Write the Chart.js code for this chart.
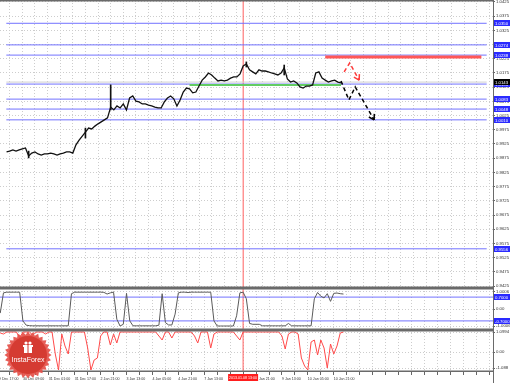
<!DOCTYPE html>
<html>
<head>
<meta charset="utf-8">
<script src="https://cdn.jsdelivr.net/npm/chart.js@4.4.1/dist/chart.umd.min.js"></script>
<style>
html, body { margin: 0; padding: 0; background: #fff; }
#wrap { position: relative; width: 510px; height: 383px; overflow: hidden; }
canvas { position: absolute; left: 0; }
</style>
</head>
<body>
<div id="wrap">
  <canvas id="main" width="510" height="288" style="top:0"></canvas>
  <canvas id="osc" width="510" height="42" style="top:288px"></canvas>
  <canvas id="red" width="510" height="53" style="top:330px"></canvas>
</div>
<script>
// 종가 (2시간 간격, H1 바 번호 2, 4, 6 ...)
const closes = [
  0.9897, 0.9900, 0.9904, 0.9900, 0.9904, 0.9908, 0.9911, 0.9883, 0.9893, 0.9897,
  0.9890, 0.9886, 0.9890, 0.9890, 0.9893, 0.9890, 0.9886, 0.9890, 0.9893, 0.9897,
  0.9897, 0.9893, 0.9922, 0.9939, 0.9953, 0.9967, 0.9981, 0.9978, 0.9988, 0.9996,
  1.0003, 1.0010, 1.0017, 1.0055, 1.0045, 1.0059, 1.0052, 1.0066, 1.0045, 1.0087,
  1.0094, 1.0076, 1.0073, 1.0066, 1.0066, 1.0062, 1.0059, 1.0055, 1.0052, 1.0052,
  1.0073, 1.0087, 1.0094, 1.0084, 1.0059, 1.0080, 1.0108, 1.0122, 1.0119, 1.0105,
  1.0108, 1.0129, 1.0150, 1.0161, 1.0175, 1.0168, 1.0157, 1.0147, 1.0150, 1.0147,
  1.0150, 1.0157, 1.0161, 1.0161, 1.0172, 1.0200, 1.0207, 1.0186, 1.0179, 1.0172,
  1.0186, 1.0182, 1.0182, 1.0179, 1.0175, 1.0172, 1.0168, 1.0175, 1.0193, 1.0154,
  1.0143, 1.0147, 1.0140, 1.0126, 1.0122, 1.0129, 1.0129, 1.0133, 1.0175, 1.0179,
  1.0157, 1.0150, 1.0143, 1.0147, 1.0150, 1.0143, 1.0140
];
// 큰 꼬리가 보이는 바
const wickAt = [16, 52, 68, 154, 178];
const wickLows = [0.9876, 0.9946, 1.0045, 1.0196, 1.0168];
const wickHighs = [0.9900, 0.9981, 1.0133, 1.0214, 1.0203];

// 보조지표 1 (회색)
const oscValues = [
  -0.24, 0.95, 0.99, 0.99, 0.99, 0.99, 0.99, -0.70, -0.95, -0.98,
  -0.99, -0.99, -0.99, -0.99, -0.99, -0.99, -0.99, -0.99, -0.99, -0.99,
  -0.99, -0.99, 0.90, 0.99, 0.99, 0.99, 0.99, 0.99, 0.99, 0.99,
  0.99, 0.99, 0.98, 0.88, 0.95, 0.99, -0.60, -1.00, -0.90, 0.92,
  -0.70, -0.99, -0.99, -0.99, -0.99, -0.99, -0.99, -0.99, -0.99, -0.95,
  0.90, -0.80, -0.94, -0.94, -0.30, 0.95, 0.99, 0.99, 0.97, 0.99,
  0.99, 0.99, 0.99, 0.99, 0.99, 0.99, -0.70, -1.00, -1.00, -1.00,
  -1.00, -1.00, -1.00, -0.40, 0.95, 0.99, 0.60, -0.85, -0.90, -0.90,
  -0.90, -0.99, -0.99, -0.99, -0.99, -0.99, -0.99, -0.99, -0.99, -0.85,
  -0.99, -0.99, -0.99, -0.99, -0.99, -0.99, -0.99, 0.60, 0.97, 0.75,
  0.65, 0.90, 0.45, 0.92, 0.94, 0.90, 0.88
];
// 보조지표 2 (빨강)
const redValues = [
  0.95, 0.90, 1, 1, 1, 1, 0.70, 1, 1, 1,
  0.85, 1, 1, 1, 0.90, 1, 1, -0.10, -0.90, 0.90,
  0.30, -0.10, 1, 1, 1, 1, 1, 0.20, -0.90, -0.40,
  -0.30, 0.80, 1, 1, 0.35, 0.90, 0.45, 1, 1, 1,
  1, 1, 1, 1, 1, 1, 1, 1, 1, 0.80,
  0.60, 1, 1, 0.70, 1, 1, 1, 1, 1, 1,
  0.80, 0.45, 1, 1, 1, 0.20, 0.90, 1, 1, 1,
  1, 1, 1, 0.80, 0.60, 1, 1, 1, 1, 1,
  1, 1, 1, 1, 1, 1, 1, 0.80, 0.15, 0.90,
  1, 1, 0.90, -0.30, -0.70, -0.90, 0.50, 0.60, -0.15, 0.60,
  0.20, -0.80, 0.40, -0.10, 0.30, 0.95, 1
];
const firstBar = 2;

// 수평 레벨
const blueLevels = [1.0350, 1.0274, 1.0238, 1.0136, 1.0083, 1.0048, 1.0010, 0.9556];
const bidPrice = 1.0143;
const greenLevel = 1.0133, greenFrom = 118, greenTo = 214;
const redLevel = 1.0231, redFrom = 204, redTo = 303;
// 예상 경로 (바 번호, 가격)
const blackPathBars = [214, 219, 223, 235];
const blackPathPrices = [1.0147, 1.0080, 1.0126, 1.0010];
const redPathBars = [216, 219.5, 225.5];
const redPathPrices = [1.0179, 1.0210, 1.0150];

// 축 눈금
const priceTicks = [0.9425, 0.9475, 0.9525, 0.9575, 0.9625, 0.9675, 0.9725, 0.9775, 0.9825, 0.9875,
  0.9925, 0.9975, 1.0025, 1.0075, 1.0125, 1.0175, 1.0225, 1.0275, 1.0325, 1.0375, 1.0425];
const oscTicks = [1.0, 0, -1.0];
const oscTickLabels = ['1.0006', '0.00', '-1.0006'];
const oscLevels = [0.7, -0.7];
const redTicks = [1.0, 0, -0.8];
const redTickLabels = ['1.0994', '0.00', '-1.088'];
const timeBars = [0, 16, 32, 48, 64, 80, 96, 112, 128, 144, 160, 176, 192, 208];
const timeLabels = ['29 Dec 17:00', '30 Dec 09:00', '31 Dec 01:00', '31 Dec 17:00', '2 Jan 21:00',
  '3 Jan 13:00', '4 Jan 05:00', '4 Jan 21:00', '7 Jan 13:00', '8 Jan 05:00', '8 Jan 21:00',
  '9 Jan 13:00', '10 Jan 05:00', '10 Jan 21:00'];
const markerBar = 152;
const markerLabel = '2013.01.08 13:00';

const X_MIN = 1.85, X_MAX = 306.35;
const FONT = '"Liberation Sans", Arial, sans-serif';
const AXIS_FONT = 4.3, TIME_FONT = 3.6;

const gridBars = [];
for (let v = 0; v <= 304; v += 8) gridBars.push(v);

const pts = (vals) => vals.map((v, j) => ({x: firstBar + 2 * j, y: v}));
const hline = (y, from, to) => [{x: from, y: y}, {x: to, y: y}];

function xScale(withLabels) {
  return {
    type: 'linear', min: X_MIN, max: X_MAX,
    afterBuildTicks: s => { s.ticks = gridBars.map(v => ({value: v})); },
    afterFit: s => {
      s.height = withLabels ? 11 : 0;
      s.paddingLeft = 0; s.paddingRight = 0;
    },
    grid: {color: '#cdcdcd', drawTicks: withLabels, tickLength: 3, tickColor: '#666'},
    border: {display: false, dash: [1, 2]},
    ticks: {
      display: withLabels, autoSkip: false, maxRotation: 0, align: 'start', padding: 1.5,
      color: '#333', font: {size: TIME_FONT, family: FONT},
      callback: v => { const k = timeBars.indexOf(v); return k >= 0 ? timeLabels[k] : ''; }
    }
  };
}

function yScale(min, max, ticks, labels) {
  return {
    position: 'right', min: min, max: max,
    afterBuildTicks: s => { s.ticks = ticks.map(v => ({value: v})); },
    afterFit: s => {
      s.width = 17;
      s.paddingTop = 0; s.paddingBottom = 0;
    },
    grid: {color: '#cdcdcd', tickLength: 2, tickColor: '#666'},
    border: {display: false, dash: [1, 2]},
    ticks: {autoSkip: false, padding: 1, color: '#333', font: {size: AXIS_FONT, family: FONT},
      callback: (v, i) => labels[i]}
  };
}

// 빨간 세로선 (기간 구분): 선 데이터셋으로 그림
const markerLine = (min, max) => ({
  data: [{x: markerBar, y: min}, {x: markerBar, y: max}],
  borderColor: '#ff6060', borderWidth: 1, order: 5
});

// 패널 테두리
const framePlugin = {
  id: 'frame',
  afterDraw(chart) {
    const {ctx, chartArea: a} = chart;
    ctx.save();
    ctx.setLineDash([]);
    ctx.strokeStyle = '#6a6a6a';
    ctx.lineWidth = 1.5;
    ctx.beginPath();
    ctx.moveTo(0, a.top + 0.75); ctx.lineTo(a.right, a.top + 0.75);
    ctx.moveTo(0, a.bottom - 0.75); ctx.lineTo(a.right, a.bottom - 0.75);
    ctx.stroke();
    ctx.lineWidth = 1;
    ctx.beginPath(); ctx.moveTo(a.right + 0.5, a.top); ctx.lineTo(a.right + 0.5, chart.height); ctx.stroke();
    ctx.restore();
  }
};

// 축 위의 가격 상자
function tagPlugin(tags) {
  return {
    id: 'tags',
    afterDraw(chart) {
      const {ctx, chartArea: a, scales: {y}} = chart;
      ctx.save();
      ctx.font = AXIS_FONT + 'px ' + FONT;
      ctx.textBaseline = 'middle';
      tags.forEach(t => {
        const py = Math.round(y.getPixelForValue(t.value));
        ctx.fillStyle = t.bg;
        ctx.fillRect(a.right + 1, py - 3, 17, 6);
        ctx.fillStyle = '#fff';
        ctx.fillText(t.text, a.right + 2, py + 0.5);
      });
      ctx.restore();
    }
  };
}

// 점선 경로 끝의 화살촉
const arrowPlugin = {
  id: 'arrowHeads',
  afterDatasetsDraw(chart) {
    const ctx = chart.ctx;
    chart.data.datasets.forEach((ds, i) => {
      if (!ds.arrowHead) return;
      const d = chart.getDatasetMeta(i).data;
      const p1 = d[d.length - 2], p2 = d[d.length - 1];
      const ang = Math.atan2(p2.y - p1.y, p2.x - p1.x);
      ctx.save();
      ctx.setLineDash([]);
      ctx.strokeStyle = ds.borderColor;
      ctx.lineWidth = 1.5;
      ctx.beginPath();
      [-0.55, 0.55].forEach(o => {
        ctx.moveTo(p2.x, p2.y);
        ctx.lineTo(p2.x - 6 * Math.cos(ang + o), p2.y - 6 * Math.sin(ang + o));
      });
      ctx.stroke();
      ctx.restore();
    });
  }
};

// 시간축 빨간 라벨 + 로고
const bottomPlugin = {
  id: 'bottom',
  afterDraw(chart) {
    const {ctx, chartArea: a, scales: {x}} = chart;
    const px = x.getPixelForValue(markerBar);
    ctx.save();
    ctx.fillStyle = '#ff1e1e';
    ctx.fillRect(px - 15, a.bottom + 2, 30, 7);
    ctx.fillStyle = '#fff';
    ctx.font = TIME_FONT + 'px ' + FONT;
    ctx.textAlign = 'center';
    ctx.textBaseline = 'middle';
    ctx.fillText(markerLabel, px, a.bottom + 5.5);

    // InstaForex 배지
    const cx = a.left + 28, cy = a.top + 25;
    ctx.globalAlpha = 0.93;
    ctx.fillStyle = '#e5524a';
    ctx.beginPath();
    for (let k = 0; k < 56; k++) {
      const r = k % 2 ? 20.5 : 23.5;
      const t = k * Math.PI / 28;
      ctx.lineTo(cx + r * Math.cos(t), cy + r * Math.sin(t));
    }
    ctx.closePath();
    ctx.fill();
    ctx.fillStyle = '#d4392f';
    ctx.beginPath(); ctx.arc(cx, cy, 19, 0, Math.PI * 2); ctx.fill();
    ctx.globalAlpha = 1;
    ctx.fillStyle = '#fff';
    ctx.fillRect(cx - 4, cy - 8, 8, 6);
    ctx.fillRect(cx - 5, cy - 10, 10, 2);
    ctx.beginPath(); ctx.arc(cx - 2, cy - 12, 1.6, 0, Math.PI * 2); ctx.arc(cx + 2, cy - 12, 1.6, 0, Math.PI * 2); ctx.fill();
    ctx.fillStyle = '#d4392f';
    ctx.fillRect(cx - 0.5, cy - 10, 1, 8);
    ctx.fillStyle = '#fff';
    ctx.font = '7px ' + FONT;
    ctx.fillText('InstaForex', cx, cy + 5);
    ctx.restore();
  }
};

const baseOptions = {
  responsive: false,
  animation: false,
  layout: {padding: 0, autoPadding: false},
  plugins: {legend: {display: false}, tooltip: {enabled: false}},
  elements: {point: {radius: 0}, line: {tension: 0}}
};

// 메인 가격 차트
const mainDatasets = [
  {data: pts(closes), borderColor: '#111', borderWidth: 1.3},
  {type: 'bar', data: wickAt.map((b, k) => ({x: b, y: [wickLows[k], wickHighs[k]]})),
    backgroundColor: '#111', barThickness: 1},
  {data: blackPathBars.map((b, k) => ({x: b, y: blackPathPrices[k]})), borderColor: '#000',
    borderWidth: 1.5, borderDash: [4, 3], arrowHead: true},
  {data: redPathBars.map((b, k) => ({x: b, y: redPathPrices[k]})), borderColor: '#ff3b3b',
    borderWidth: 1.5, borderDash: [4, 3], arrowHead: true},
  {data: hline(greenLevel, greenFrom, greenTo), borderColor: '#62cc62', borderWidth: 2},
  {data: hline(redLevel, redFrom, redTo), borderColor: '#ff5757', borderWidth: 3},
  {data: hline(bidPrice, X_MIN, X_MAX), borderColor: '#d0d0d0', borderWidth: 1},
  markerLine(0.9418, 1.0432)
];
blueLevels.forEach(l => mainDatasets.push({data: hline(l, X_MIN, X_MAX), borderColor: '#7272ff', borderWidth: 1}));

const mainTags = blueLevels.map(l => ({value: l, text: l.toFixed(4), bg: '#2a2aff'}));
mainTags.push({value: bidPrice, text: bidPrice.toFixed(4), bg: '#000'});

new Chart(document.getElementById('main'), {
  type: 'line',
  data: {datasets: mainDatasets},
  options: Object.assign({}, baseOptions, {
    scales: {x: xScale(false), y: yScale(0.9418, 1.0432, priceTicks, priceTicks.map(v => v.toFixed(4)))}
  }),
  plugins: [framePlugin, arrowPlugin, tagPlugin(mainTags)]
});

// 보조지표 1
const oscDatasets = [{data: pts(oscValues), borderColor: '#5a5a5a', borderWidth: 1}, markerLine(-1.235, 1.235)];
oscLevels.forEach(l => oscDatasets.push({data: hline(l, X_MIN, X_MAX), borderColor: '#7272ff', borderWidth: 1}));
new Chart(document.getElementById('osc'), {
  type: 'line',
  data: {datasets: oscDatasets},
  options: Object.assign({}, baseOptions, {
    scales: {x: xScale(false), y: yScale(-1.235, 1.235, oscTicks, oscTickLabels)}
  }),
  plugins: [framePlugin, tagPlugin(oscLevels.map(l => ({value: l, text: l.toFixed(4), bg: '#2a2aff'})))]
});

// 보조지표 2
new Chart(document.getElementById('red'), {
  type: 'line',
  data: {datasets: [{data: pts(redValues), borderColor: '#ff4a4a', borderWidth: 1}, markerLine(-1.0, 1.1)]},
  options: Object.assign({}, baseOptions, {
    scales: {x: xScale(true), y: yScale(-1.0, 1.1, redTicks, redTickLabels)}
  }),
  plugins: [framePlugin, bottomPlugin]
});
</script>
</body>
</html>
